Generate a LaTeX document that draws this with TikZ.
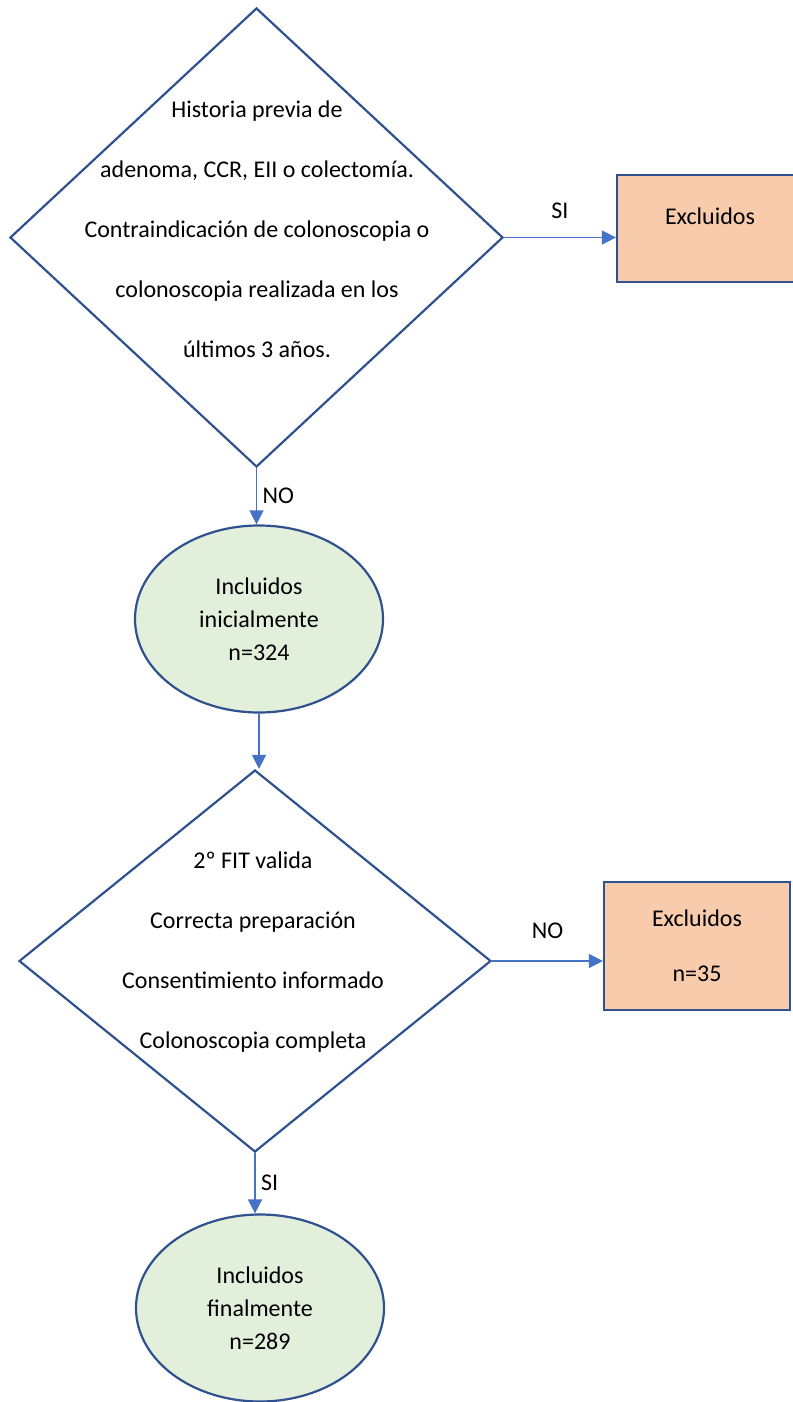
\documentclass[tikz,border=0pt]{standalone}
\usepackage{fontspec}
\setmainfont{Carlito}
\usepackage{xcolor}
\usetikzlibrary{shapes.geometric,arrows.meta,positioning}
\definecolor{bordeazul}{HTML}{2F528F}
\definecolor{flechaazul}{HTML}{4472C4}
\definecolor{naranja}{HTML}{F8CBAD}
\definecolor{verde}{HTML}{E2EFDA}
\tikzset{
  decision/.style={diamond, draw=bordeazul, line width=2.2pt, inner sep=0pt},
  qtext/.style={align=center, font=\fontsize{24}{60}\selectfont},
  excl/.style={rectangle, draw=bordeazul, line width=2.2pt, fill=naranja,
    minimum width=186pt, align=center},
  incl/.style={ellipse, draw=bordeazul, line width=2.2pt, fill=verde,
    minimum width=248pt, minimum height=187pt, align=center,
    font=\fontsize{24}{33}\selectfont},
  flecha/.style={draw=flechaazul, line width=1.4pt,
    -{Triangle[length=14pt,width=14pt]}},
  etiq/.style={font=\fontsize{24}{28}\selectfont}
}

\begin{document}
\begin{tikzpicture}[x=1pt,y=-1pt]
    \useasboundingbox (0,0) rectangle (792,1402);

    % primera pregunta
    \node[decision, minimum width=493pt, minimum height=459pt] (hist) at (256.5,237.5) {};
    \node[qtext] (histtxt) at (257,229) {Historia previa de\\adenoma, CCR, EII o colectomía.\\Contraindicación de colonoscopia o\\colonoscopia realizada en los\\últimos 3 años.};

    % SI
    \node[excl, minimum height=107pt, font=\fontsize{24}{19}\selectfont] (excl1) at (710,228.5) {Excluidos\\\strut};
    \draw[flecha] (hist.east) -- (excl1.west |- hist.east) node[etiq, midway, above=15pt] {SI};

    % NO
    \node[incl] (inc1) at (259,619) {Incluidos\\inicialmente\\n=324};
    \draw[flecha] (hist.south) -- (hist.south |- inc1.north) node[etiq, midway, right=2pt] {NO};

    % segunda pregunta
    \node[decision, minimum width=472pt, minimum height=382pt] (crit) at (255,961) {};
    \node[qtext] (crittxt) at (253,952) {2º FIT valida\\Correcta preparación\\Consentimiento informado\\Colonoscopia completa};
    \draw[flecha] (inc1.south) -- (inc1.south |- crit.north);

    % NO
    \node[excl, minimum height=128pt, font=\fontsize{24}{55}\selectfont] (excl2) at (697,946) {Excluidos\\n=35};
    \draw[flecha] (crit.east) -- (excl2.west |- crit.east) node[etiq, midway, above=18pt] {NO};

    % SI
    \node[incl] (inc2) at (260,1308) {Incluidos\\finalmente\\n=289};
    \draw[flecha] (crit.south) -- (crit.south |- inc2.north) node[etiq, midway, right=2pt] {SI};
\end{tikzpicture}
\end{document}
